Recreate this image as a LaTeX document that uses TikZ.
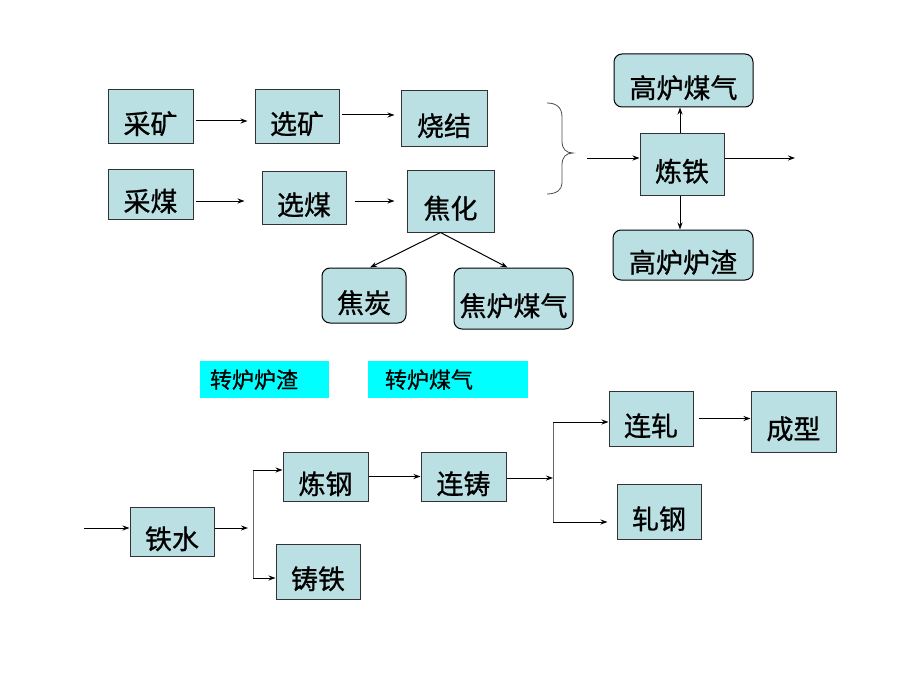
\documentclass[tikz,border=0pt]{standalone}
\usepackage{fontspec}
\newfontfamily\cjk[FakeBold=0.8]{Noto Sans CJK SC}
\usetikzlibrary{arrows.meta}
\definecolor{boxfill}{HTML}{BBE0E3}
\definecolor{boxline}{HTML}{333333}
\definecolor{notefill}{HTML}{00FFFF}

\begin{document}
\begin{tikzpicture}[x=1pt,y=-1pt,
    process/.style ={rectangle, draw=boxline, fill=boxfill, line width=1pt, inner sep=0pt, text height=35pt, text depth=0pt, font=\cjk\fontsize{27}{30}\selectfont},
    product/.style ={process, draw=black, rounded corners=8pt},
    note/.style ={rectangle, fill=notefill, inner sep=0pt, align=left, text height=17pt, text depth=0pt, font=\cjk\fontsize{22}{26}\selectfont},
    flow/.style ={line width=1pt, -{Stealth[length=7pt,width=5pt]}},
    fork/.style ={line width=1pt, black!60}]
   \useasboundingbox (0,0) rectangle (920,690);

   \node[process, minimum width=85pt, minimum height=53pt] (caikuang) at (150.5,116.5) {采矿};
   \node[process, minimum width=84pt, minimum height=53pt] (xuankuang) at (297,116.5) {选矿};
   \node[process, minimum width=86pt, minimum height=55pt] (shaojie) at (444,118.5) {烧结};
   \node[process, minimum width=85pt, minimum height=50pt] (caimei) at (150.5,194) {采煤};
   \node[process, minimum width=84pt, minimum height=53pt] (xuanmei) at (304,197.5) {选煤};
   \node[process, minimum width=87pt, minimum height=62pt] (jiaohua) at (450.5,201) {焦化};
   \node[product, minimum width=84pt, minimum height=55pt] (jiaotan) at (364,295.5) {焦炭};
   \node[product, minimum width=119pt, minimum height=61pt] (jiaolumeiqi) at (513.5,298.5) {焦炉煤气};

   \node[process, minimum width=84pt, minimum height=62pt] (liantie) at (682,164) {炼铁};
   \node[product, minimum width=139pt, minimum height=53pt] (gaolumeiqi) at (683.5,80.5) {高炉煤气};
   \node[product, minimum width=140pt, minimum height=50pt] (gaoluluzha) at (683,255) {高炉炉渣};

   \node[note, inner xsep=10pt, text width=109pt, minimum height=37pt] (zhuanluluzha) at (264.5,379.5) {转炉炉渣};
   \node[note, inner xsep=17pt, text width=126pt, minimum height=37pt] (zhuanlumeiqi) at (448,379.5) {转炉煤气};

   \node[process, minimum width=84pt, minimum height=49pt] (tieshui) at (172,531.5) {铁水};
   \node[process, minimum width=85pt, minimum height=49pt] (liangang) at (325.5,476.5) {炼钢};
   \node[process, minimum width=84pt, minimum height=55pt] (zhutie) at (318,571.5) {铸铁};
   \node[process, minimum width=85pt, minimum height=49pt] (lianzhu) at (463.5,476.5) {连铸};
   \node[process, minimum width=84pt, minimum height=55pt] (lianzha) at (651,418.5) {连轧};
   \node[process, minimum width=85pt, minimum height=61pt] (chengxing) at (793.5,421.5) {成型};
   \node[process, minimum width=84pt, minimum height=55pt] (zhagang) at (659,511.5) {轧钢};

   \draw[flow, shorten <=2pt, shorten >=7pt] ([yshift=-4.5pt]caikuang.east) -- ([yshift=-4.5pt]xuankuang.west);
   \draw[flow, shorten <=2pt, shorten >=6pt] ([yshift=1.5pt]xuankuang.east) -- ([yshift=1.5pt]xuankuang.east -| shaojie.west);
   \draw[flow, shorten <=2pt, shorten >=17pt] ([yshift=-7pt]caimei.east) -- ([yshift=-7pt]caimei.east -| xuanmei.west);
   \draw[flow, shorten <=8pt, shorten >=12pt] ([yshift=-3.5pt]xuanmei.east) -- ([yshift=-3.5pt]xuanmei.east -| jiaohua.west);
   \draw[flow] ([xshift=-10pt]jiaohua.south) -- ([xshift=6pt]jiaotan.north);
   \draw[flow] ([xshift=-10pt]jiaohua.south) -- ([xshift=-6pt]jiaolumeiqi.north);

   \draw[line width=0.8pt, black!70] (547,103) .. controls (556,103) and (562,107) .. (562,117)
      -- (562,141) .. controls (562,149) and (566,153) .. (573,153)
      .. controls (566,153) and (562,157) .. (562,165)
      -- (562,183) .. controls (562,190) and (556,194) .. (547,194);

   \coordinate (orein) at (587,158);
   \coordinate (ironout) at (795,158);
   \draw[flow] (orein) -- (orein -| liantie.west);
   \draw[flow] ([xshift=-2pt]liantie.north) -- ([xshift=-2pt]liantie.north |- gaolumeiqi.south);
   \draw[flow] ([xshift=-2pt]liantie.south) -- ([xshift=-2pt]liantie.south |- gaoluluzha.north);
   \draw[flow] (ironout -| liantie.east) -- (ironout);

   \coordinate (meltin) at (84,528);
   \coordinate (forka) at (253,528);
   \coordinate (forkahi) at (253,470);
   \coordinate (forkalo) at (253,578);
   \draw[flow] (meltin) -- (meltin -| tieshui.west);
   \draw[flow, shorten >=5pt] (forka -| tieshui.east) -- (forka);
   \draw[fork] (forkahi) -- (forkalo);
   \draw[flow] (forkahi) -- (forkahi -| liangang.west);
   \draw[flow] (forkalo) -- (forkalo -| zhutie.west);
   \draw[flow] (liangang) -- (lianzhu);

   \coordinate (forkb) at (553,478);
   \coordinate (forkbhi) at (553,422);
   \coordinate (forkblo) at (553,522);
   \draw[flow] (forkb -| lianzhu.east) -- (forkb);
   \draw[fork] (forkbhi) -- (forkblo);
   \draw[flow] (forkbhi) -- (forkbhi -| lianzha.west);
   \draw[flow, shorten >=9pt] (forkblo) -- (forkblo -| zhagang.west);
   \draw[flow, shorten <=5pt] (lianzha.east) -- (lianzha.east -| chengxing.west);
 \end{tikzpicture}
\end{document}
